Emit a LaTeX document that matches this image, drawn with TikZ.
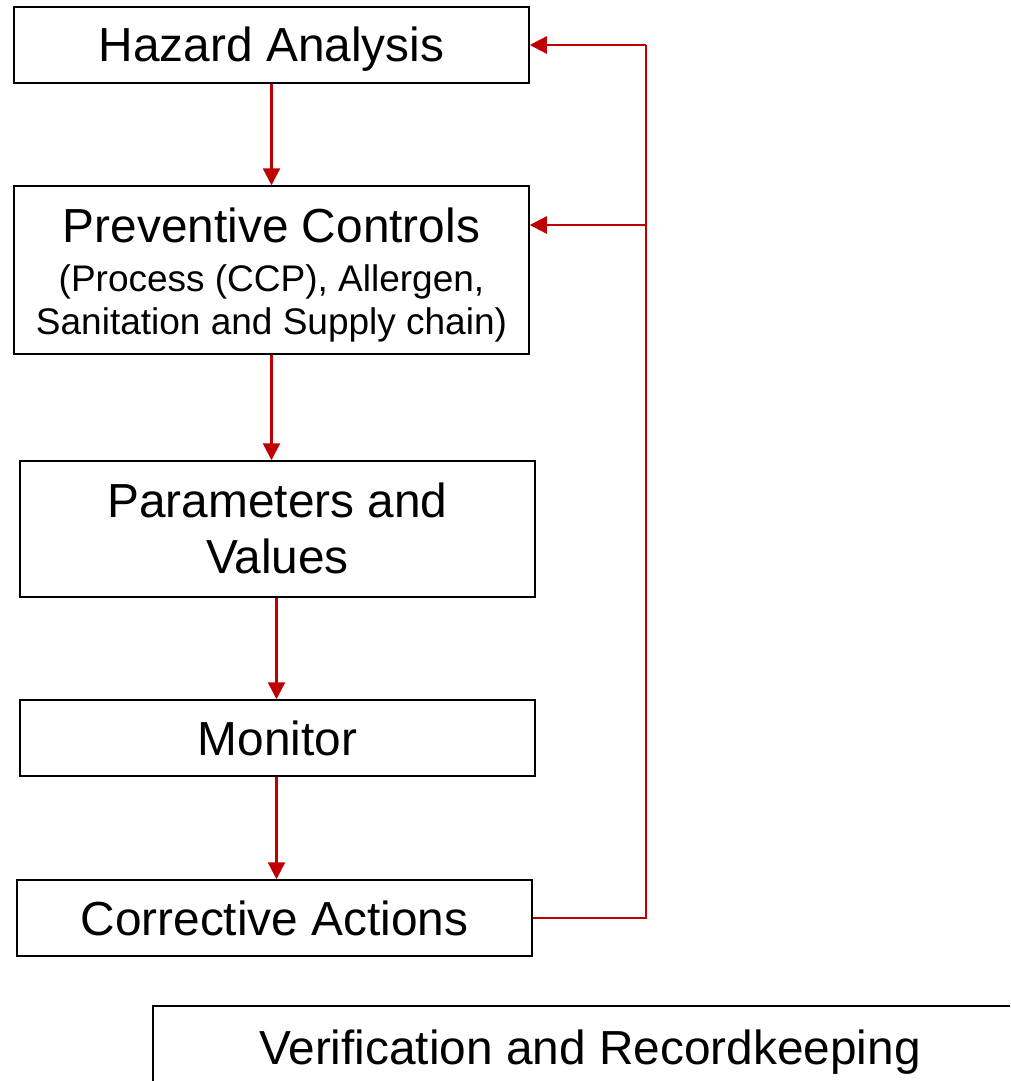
\documentclass[tikz,border=0pt]{standalone}
\usepackage{fontspec}
\setmainfont{Liberation Sans}
\usetikzlibrary{arrows.meta,calc}
\definecolor{fbred}{HTML}{C00000}
\begin{document}
\begin{tikzpicture}[x=1pt,y=-1pt,
  box/.style={draw=black,line width=1.5pt,inner sep=0pt,fill=white},
  bigtxt/.style={font=\fontsize{47.8}{56}\selectfont},
  smalltxt/.style={font=\fontsize{37}{43}\selectfont},
  one/.style={text height=34pt,text depth=0pt},
  arr/.style={draw=fbred,line width=2.4pt,-{Triangle[length=17pt,width=17pt]}},
  fbline/.style={draw=fbred,line width=1.4pt}]
\useasboundingbox (0,0) rectangle (1010,1081);
\clip (0,0) rectangle (1010,1081);
\fill[white] (0,0) rectangle (1010,1081);

\node[box,bigtxt,one,minimum width=515pt,minimum height=76pt] (ha) at (271.5,45) {Hazard Analysis};

\node[box,minimum width=515pt,minimum height=168pt] (pc) at (271.5,270) {};
\node[bigtxt,anchor=base,inner sep=0pt] (pct1) at (271.5,242) {Preventive Controls};
\node[smalltxt,anchor=base,inner sep=0pt] (pct2) at (271.5,291) {(Process (CCP), Allergen,};
\node[smalltxt,anchor=base,inner sep=0pt] (pct3) at (271.5,334) {Sanitation and Supply chain)};

\node[box,minimum width=515pt,minimum height=136pt] (pv) at (277.5,529) {};
\node[bigtxt,anchor=base,inner sep=0pt] (pvt1) at (277.5,517) {Parameters and};
\node[bigtxt,anchor=base,inner sep=0pt] (pvt2) at (277.5,573) {Values};

\node[box,bigtxt,one,minimum width=515pt,minimum height=76pt] (mo) at (277.5,738) {Monitor};

\node[box,bigtxt,one,minimum width=515pt,minimum height=76pt] (ca) at (274.5,918) {Corrective Actions};

\node[box,bigtxt,one,minimum width=874pt,minimum height=82pt] (vr) at (590,1047) {Verification and Recordkeeping};

% downward connectors
\draw[arr] (ha.south) -- (pc.north);
\draw[arr] (pc.south) -- (pc.south |- pv.north);
\coordinate (pvs) at ($(pv.south)+(-1,0)$);
\coordinate (mon) at ($(mo.north)+(-1,0)$);
\coordinate (mos) at ($(mo.south)+(-1,0)$);
\draw[arr] (pvs) -- (mon);
\draw[arr] (mos) -- (mos |- ca.north);

% feedback loop
\coordinate (fbtop) at (646,45);
\coordinate (fbmid) at (646,225);
\draw[fbline] (ca.east) -| (fbtop);
\draw[arr] (fbtop) -- (ha.east);
\draw[arr] (fbmid) -- (fbmid -| pc.east);
\end{tikzpicture}
\end{document}
